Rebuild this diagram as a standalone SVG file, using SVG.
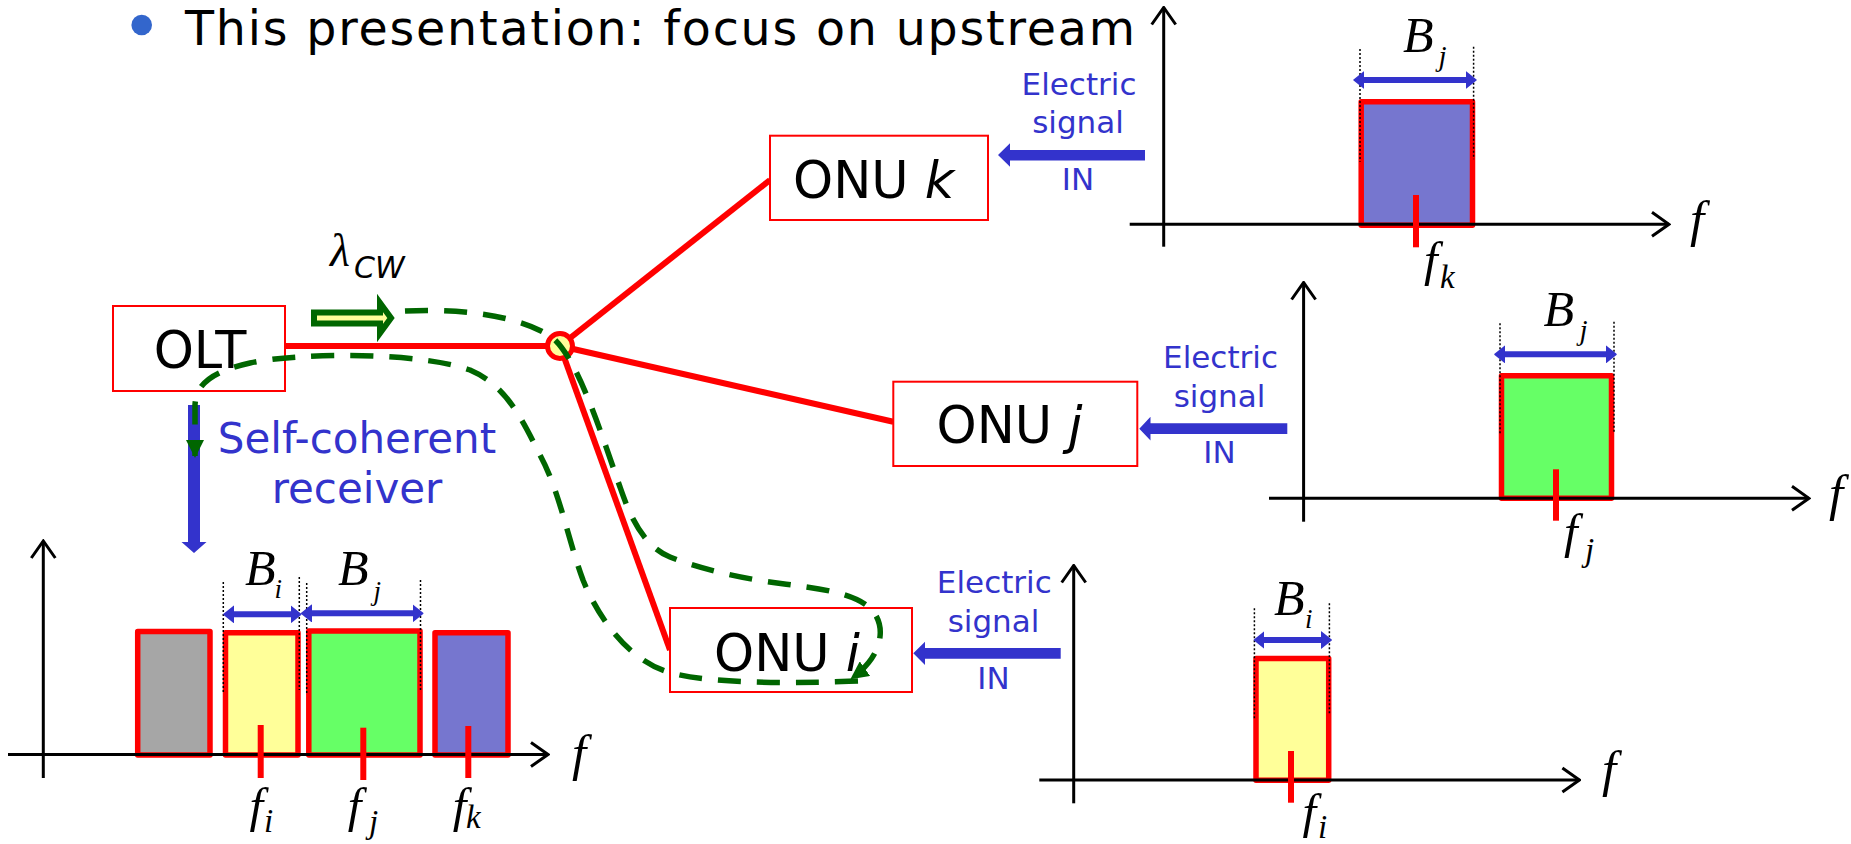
<svg xmlns="http://www.w3.org/2000/svg" width="1851" height="844" viewBox="0 0 1851 844">
<defs>
<style>
.sans{font-family:"DejaVu Sans","Liberation Sans",sans-serif}
.ser{font-family:"Liberation Serif","DejaVu Serif",serif;font-style:italic}
.box{fill:#ffffff;stroke:#ff0000;stroke-width:2}
.fib{stroke:#ff0000;stroke-width:6;fill:none}
.dash{stroke:#006600;stroke-width:5.5;fill:none;stroke-dasharray:23 16}
.ax{stroke:#000;stroke-width:3;fill:none;marker-end:url(#axh)}
.band{stroke:#ff0000;stroke-width:5.5;stroke-linejoin:round}
.tick{stroke:#ff0000;stroke-width:6}
.dot{stroke:#000;stroke-width:1.5;stroke-dasharray:2 2}
.bw{stroke:#3333cc;stroke-width:6;marker-start:url(#bwh);marker-end:url(#bwh)}
.blue{fill:#3333cc}
.lbl{font-size:31px;fill:#3333cc;text-anchor:middle}
</style>
<marker id="axh" viewBox="-2 -2 21 28" refX="17" refY="12" markerWidth="21" markerHeight="28" markerUnits="userSpaceOnUse" orient="auto"><path d="M0,0 L17,12 L0,24" fill="none" stroke="#000" stroke-width="3"/></marker>
<marker id="bwh" viewBox="0 0 11 18" refX="4" refY="9" markerWidth="11" markerHeight="18" markerUnits="userSpaceOnUse" orient="auto-start-reverse"><path d="M0,1 L10,9 L0,17 Z" fill="#3333cc" stroke="#3333cc" stroke-width="1.5" stroke-linejoin="round"/></marker>
<marker id="gh" viewBox="0 0 18 18" refX="16" refY="9" markerWidth="18" markerHeight="18" markerUnits="userSpaceOnUse" orient="auto"><path d="M0,0 L18,9 L0,18 Z" fill="#006600"/></marker>
</defs>
<rect width="1851" height="844" fill="#ffffff"/>

<g id="header">
<circle cx="141.7" cy="25" r="10.3" fill="#3366cc"/>
<text class="sans" x="185" y="44.5" font-size="47.5" textLength="950" fill="#000">This presentation: focus on upstream</text>
</g>

<g id="connectors">
<line class="fib" x1="285" y1="346" x2="560" y2="346"/>
<line class="fib" x1="560" y1="346" x2="770" y2="180"/>
<line class="fib" x1="560" y1="346" x2="893.3" y2="421.7"/>
<line class="fib" x1="560" y1="346" x2="670" y2="650"/>
<path class="blue" d="M188,405 L200,405 L200,542 L206.5,542 L194,553 L181.5,542 L188,542 Z"/>
<path class="blue" d="M998,155 L1010,143.3 L1010,150 L1145,150 L1145,160.5 L1010,160.5 L1010,166.7 Z"/>
<path class="blue" d="M1139.3,428.7 L1150.5,416.7 L1150.5,423.3 L1287.3,423.3 L1287.3,434 L1150.5,434 L1150.5,440.5 Z"/>
<path class="blue" d="M913.3,653.3 L925,641.7 L925,648 L1060.7,648 L1060.7,658.7 L925,658.7 L925,665 Z"/>
</g>

<g id="splitter">
<circle cx="560" cy="346" r="12.5" fill="#ffff99" stroke="#ff0000" stroke-width="5"/>
</g>

<g id="olt">
<rect class="box" x="113" y="306" width="172" height="85"/>
<text class="sans" x="200" y="368" font-size="51" text-anchor="middle" fill="#000">OLT</text>
</g>

<g id="receiver-label">
<text class="sans" x="357" y="453" font-size="42" fill="#3333cc" text-anchor="middle">Self-coherent</text>
<text class="sans" x="357" y="503" font-size="42" fill="#3333cc" text-anchor="middle">receiver</text>
</g>

<g id="onu-k">
<rect class="box" x="770" y="135.7" width="218" height="84.3"/>
<text class="sans" x="793" y="198.3" font-size="51" fill="#000">ONU <tspan font-style="italic">k</tspan></text>
<text class="sans lbl" x="1079" y="95">Electric</text>
<text class="sans lbl" x="1078" y="133">signal</text>
<text class="sans lbl" x="1078" y="190">IN</text>
</g>

<g id="onu-j">
<rect class="box" x="893.3" y="381.7" width="244" height="84.3"/>
<text class="sans" x="936.5" y="443.3" font-size="51" fill="#000">ONU <tspan font-style="italic">j</tspan></text>
<text class="sans lbl" x="1220.5" y="368.3">Electric</text>
<text class="sans lbl" x="1219.5" y="406.5">signal</text>
<text class="sans lbl" x="1219.5" y="463.3">IN</text>
</g>

<g id="onu-i">
<rect class="box" x="670" y="608" width="242" height="84"/>
<text class="sans" x="714" y="670.7" font-size="51" fill="#000">ONU <tspan font-style="italic">i</tspan></text>
<text class="sans lbl" x="994.3" y="593.3">Electric</text>
<text class="sans lbl" x="993.5" y="631.7">signal</text>
<text class="sans lbl" x="993.5" y="689.3">IN</text>
</g>

<g id="light-path">
<path class="dash" marker-end="url(#gh)" d="M405,311 C470,308 525,318 553,338 C578,360 600,430 620,487 C627,507 640,545 670,557 C700,569 740,578 777,583 C815,588 855,592 872,610 C886,626 884,655 852,678"/>
<path class="dash" marker-end="url(#gh)" d="M858,681 C780,684 700,683 665,671 C630,659 600,622 583,580 C568,540 560,492 540,455 C520,415 505,385 470,370 C420,352 300,352 250,363 C210,372 196,385 195,405 L195,456"/>
<path d="M314,312.5 L380,312.5 L380,303 L391,318 L380,333 L380,323.5 L314,323.5 Z" fill="#ffff99" stroke="#006600" stroke-width="6"/>
<text x="330" y="266" class="ser" font-size="46" fill="#000">λ</text>
<text x="354" y="278" class="sans" font-size="30" font-style="italic" fill="#000">CW</text>
</g>

<g id="spectrum-olt">
<line class="ax" x1="43.3" y1="778" x2="43.3" y2="541"/>
<rect class="band" x="137.7" y="631.5" width="72.3" height="123.5" fill="#a6a6a6"/>
<rect class="band" x="225.5" y="632.7" width="72.5" height="122.3" fill="#ffff99"/>
<rect class="band" x="308.8" y="631" width="111.2" height="124" fill="#66ff66"/>
<rect class="band" x="435" y="632.7" width="73" height="122.3" fill="#7676cf"/>
<line class="ax" x1="8" y1="754.5" x2="548" y2="754.5"/>
<line class="tick" x1="260.7" y1="725" x2="260.7" y2="778"/>
<line class="tick" x1="363.3" y1="727.7" x2="363.3" y2="780"/>
<line class="tick" x1="468.3" y1="726" x2="468.3" y2="778"/>
<line class="dot" x1="223.3" y1="582" x2="223.3" y2="694"/>
<line class="dot" x1="299.3" y1="577" x2="299.3" y2="690"/>
<line class="dot" x1="306.7" y1="583" x2="306.7" y2="693"/>
<line class="dot" x1="420.5" y1="580" x2="420.5" y2="692"/>
<line class="bw" x1="230" y1="614.3" x2="294.7" y2="614.3"/>
<line class="bw" x1="307.7" y1="613.3" x2="416.7" y2="613.3"/>
<text class="ser" x="245" y="585" font-size="50">B<tspan x="274.5" y="598" font-size="27">i</tspan></text>
<text class="ser" x="338" y="585" font-size="50">B<tspan x="373.5" y="600" font-size="27">j</tspan></text>
<text class="ser" x="249.4" y="821.7" font-size="49">f<tspan x="264" y="831.7" font-size="33">i</tspan></text>
<text class="ser" x="347.7" y="822" font-size="49">f<tspan x="369" y="833" font-size="33">j</tspan></text>
<text class="ser" x="452.7" y="821.7" font-size="49">f<tspan x="466" y="828.3" font-size="33">k</tspan></text>
<text class="ser" x="572" y="769.5" font-size="51">f</text>
</g>

<g id="spectrum-k">
<line class="ax" x1="1163.7" y1="246.7" x2="1163.7" y2="7.5"/>
<rect class="band" x="1361.2" y="101.8" width="111.3" height="123.4" fill="#7676cf" stroke-width="5"/>
<line class="ax" x1="1129.7" y1="224.3" x2="1669" y2="224.3"/>
<line class="tick" x1="1416" y1="195" x2="1416" y2="247.3"/>
<line class="dot" x1="1360" y1="49" x2="1360" y2="161.7"/>
<line class="dot" x1="1473.6" y1="46.7" x2="1473.6" y2="159.3"/>
<line class="bw" x1="1360" y1="80" x2="1470" y2="80"/>
<text class="ser" x="1403" y="51.7" font-size="50">B<tspan x="1438.5" y="66.3" font-size="29">j</tspan></text>
<text class="ser" x="1424" y="276.4" font-size="49">f<tspan x="1440" y="288" font-size="33">k</tspan></text>
<text class="ser" x="1690" y="236.3" font-size="51">f</text>
</g>

<g id="spectrum-j">
<line class="ax" x1="1303.6" y1="521.7" x2="1303.6" y2="282.5"/>
<rect class="band" x="1501.5" y="375.8" width="110" height="122.4" fill="#66ff66" stroke-width="5"/>
<line class="ax" x1="1269" y1="498.3" x2="1809" y2="498.3"/>
<line class="tick" x1="1556" y1="469.3" x2="1556" y2="520.7"/>
<line class="dot" x1="1500" y1="323.3" x2="1500" y2="435"/>
<line class="dot" x1="1614" y1="321.7" x2="1614" y2="433.3"/>
<line class="bw" x1="1501" y1="354.3" x2="1610" y2="354.3"/>
<text class="ser" x="1543.5" y="326" font-size="50">B<tspan x="1579.5" y="340" font-size="29">j</tspan></text>
<text class="ser" x="1564" y="548.3" font-size="49">f<tspan x="1585" y="561" font-size="33">j</tspan></text>
<text class="ser" x="1829" y="510" font-size="51">f</text>
</g>

<g id="spectrum-i">
<line class="ax" x1="1073.7" y1="803.3" x2="1073.7" y2="565.5"/>
<rect class="band" x="1256" y="658.5" width="72.7" height="121.7" fill="#ffff99" stroke-width="5"/>
<line class="ax" x1="1039.3" y1="780" x2="1579.4" y2="780"/>
<line class="tick" x1="1291" y1="751" x2="1291" y2="802.7"/>
<line class="dot" x1="1254.4" y1="608.3" x2="1254.4" y2="719.3"/>
<line class="dot" x1="1329.4" y1="603.3" x2="1329.4" y2="715"/>
<line class="bw" x1="1260.4" y1="640" x2="1325.2" y2="640"/>
<text class="ser" x="1274" y="615" font-size="50">B<tspan x="1305" y="628" font-size="27">i</tspan></text>
<text class="ser" x="1302.5" y="828" font-size="49">f<tspan x="1318" y="838" font-size="33">i</tspan></text>
<text class="ser" x="1602" y="785.7" font-size="51">f</text>
</g>
</svg>
